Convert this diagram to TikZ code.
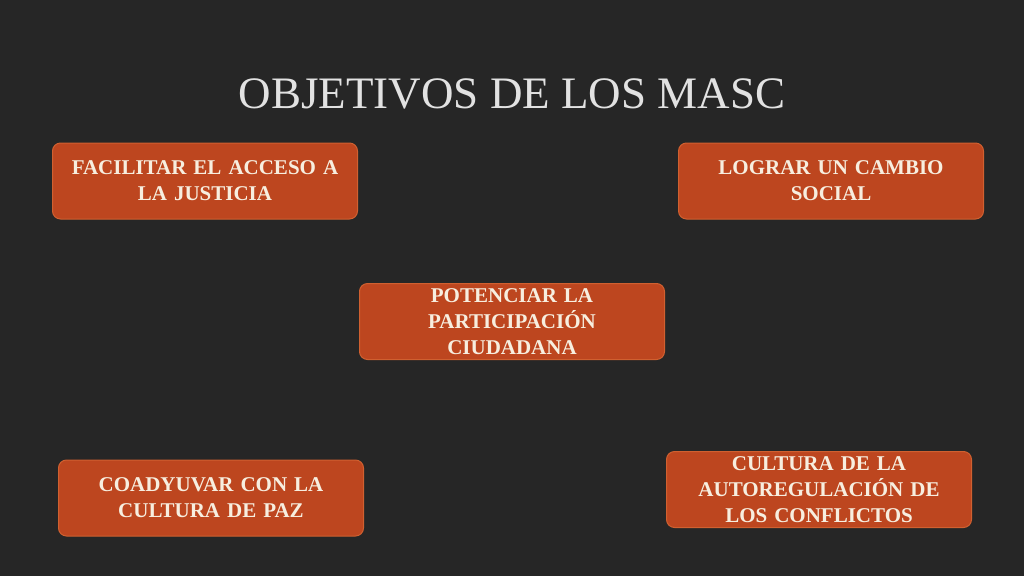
\documentclass[tikz,border=0pt]{standalone}
\usepackage{fontspec}
\setmainfont{Liberation Serif}
\begin{document}
\begin{tikzpicture}[x=1pt,y=-1pt,
  goal/.style={draw=boxline, line width=1pt, fill=boxfill, rounded corners=8pt,
    minimum width=305pt, minimum height=76pt, text width=300pt, align=center,
    text=boxtext, font=\fontsize{21}{26}\selectfont\bfseries, inner sep=0pt},
  titlestyle/.style={text=titletext, font=\fontsize{45}{52}\selectfont, inner sep=0pt}]
\definecolor{bg}{HTML}{262626}
\definecolor{boxfill}{HTML}{BD461F}
\definecolor{boxline}{HTML}{D06030}
\definecolor{boxtext}{HTML}{F7EEDF}
\definecolor{titletext}{HTML}{E2E2E2}
\fill[bg] (0,0) rectangle (1024,576);
\useasboundingbox (0,0) rectangle (1024,576);
\node[titlestyle] (title) at (512,94) {OBJETIVOS DE LOS MASC};
\node[goal] (acceso) at (205,181) {FACILITAR EL ACCESO A\\LA JUSTICIA};
\node[goal] (cambio) at (831,181) {LOGRAR UN CAMBIO\\SOCIAL};
\node[goal] (participacion) at (512,321.5) {POTENCIAR LA\\PARTICIPACIÓN\\CIUDADANA};
\node[goal] (paz) at (211,498) {COADYUVAR CON LA\\CULTURA DE PAZ};
\node[goal] (autoreg) at (819,489.5) {CULTURA DE LA\\AUTOREGULACIÓN DE\\LOS CONFLICTOS};
\end{tikzpicture}
\end{document}
